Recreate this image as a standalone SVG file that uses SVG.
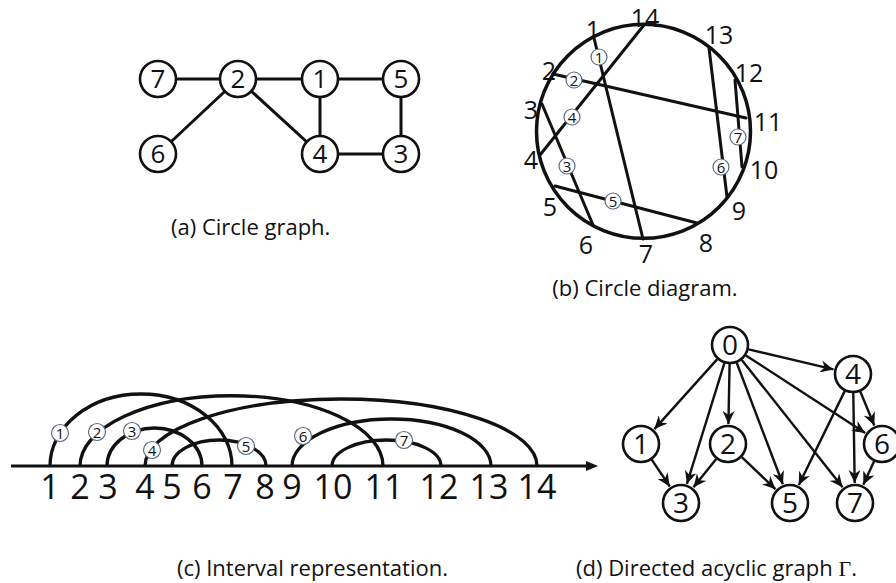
<svg xmlns="http://www.w3.org/2000/svg" width="896" height="583" viewBox="0 0 896 583">
<defs>
<style>
text{font-family:"Open Sans","Noto Sans",sans-serif;fill:#111}
.e{stroke:#111;stroke-width:3;fill:none;stroke-linecap:round}
.iv{stroke:#111;stroke-width:3.3;fill:none}
.n{fill:#fff;stroke:#111;stroke-width:2.6}
.nt{font-size:26px;text-anchor:middle}
.dt{font-size:28px;text-anchor:middle}
.cap{font-size:22px}
.pos{font-size:25px;text-anchor:middle}
.ax{font-size:34px;text-anchor:middle}
.sl{fill:#fff;stroke:#5b6b80;stroke-width:1.2}
.st{font-size:15px;text-anchor:middle}
.arr{stroke:#111;stroke-width:2.4;fill:none;marker-end:url(#ah)}
</style>
<marker id="ah" markerUnits="userSpaceOnUse" markerWidth="14" markerHeight="12" refX="13" refY="6" orient="auto">
<path d="M0,0 L13,6 L0,12 L4,6 Z" fill="#111"/>
</marker>
</defs>
<rect width="896" height="583" fill="#fff"/>

<!-- (a) Circle graph -->
<g id="a-edges">
<line class="e" x1="158" y1="79" x2="238" y2="79"/>
<line class="e" x1="238" y1="79" x2="320" y2="79"/>
<line class="e" x1="320" y1="79" x2="401" y2="79"/>
<line class="e" x1="401" y1="79" x2="401" y2="154"/>
<line class="e" x1="401" y1="154" x2="320" y2="154"/>
<line class="e" x1="320" y1="79" x2="320" y2="154"/>
<line class="e" x1="238" y1="79" x2="320" y2="154"/>
<line class="e" x1="238" y1="79" x2="158" y2="154"/>
</g>
<g id="a-node-7"><circle class="n" cx="158" cy="79" r="18"/><text class="nt" x="158" y="88">7</text></g>
<g id="a-node-2"><circle class="n" cx="238" cy="79" r="18"/><text class="nt" x="238" y="88">2</text></g>
<g id="a-node-1"><circle class="n" cx="320" cy="79" r="18"/><text class="nt" x="320" y="88">1</text></g>
<g id="a-node-5"><circle class="n" cx="401" cy="79" r="18"/><text class="nt" x="401" y="88">5</text></g>
<g id="a-node-6"><circle class="n" cx="158" cy="154" r="18"/><text class="nt" x="158" y="163">6</text></g>
<g id="a-node-4"><circle class="n" cx="320" cy="154" r="18"/><text class="nt" x="320" y="163">4</text></g>
<g id="a-node-3"><circle class="n" cx="401" cy="154" r="18"/><text class="nt" x="401" y="163">3</text></g>
<text class="cap" x="171" y="235">(a) Circle graph.</text>

<!-- (b) Circle diagram -->
<g id="b-diagram">
<circle cx="643.5" cy="131.3" r="107" fill="none" stroke="#111" stroke-width="3.5"/>
<line class="e" x1="594" y1="38" x2="643" y2="239"/>
<line class="e" x1="553" y1="74" x2="746" y2="118"/>
<line class="e" x1="542" y1="104" x2="593" y2="225"/>
<line class="e" x1="644" y1="25" x2="540" y2="155"/>
<line class="e" x1="555" y1="186" x2="697" y2="223"/>
<line class="e" x1="709" y1="48" x2="727" y2="197"/>
<line class="e" x1="735" y1="80" x2="742" y2="167"/>
<g id="b-lbl-1"><circle class="sl" cx="599" cy="57" r="8"/><text class="st" x="599" y="62.5">1</text></g>
<g id="b-lbl-2"><circle class="sl" cx="574" cy="80" r="8"/><text class="st" x="574" y="85.5">2</text></g>
<g id="b-lbl-3"><circle class="sl" cx="567" cy="166" r="8"/><text class="st" x="567" y="171.5">3</text></g>
<g id="b-lbl-4"><circle class="sl" cx="572" cy="117" r="8"/><text class="st" x="572" y="122.5">4</text></g>
<g id="b-lbl-5"><circle class="sl" cx="613" cy="201" r="8"/><text class="st" x="613" y="206.5">5</text></g>
<g id="b-lbl-6"><circle class="sl" cx="721" cy="167" r="8"/><text class="st" x="721" y="172.5">6</text></g>
<g id="b-lbl-7"><circle class="sl" cx="738" cy="137" r="8"/><text class="st" x="738" y="142.5">7</text></g>
<text class="pos" x="593" y="39">1</text>
<text class="pos" x="549" y="80">2</text>
<text class="pos" x="531" y="119">3</text>
<text class="pos" x="531" y="169">4</text>
<text class="pos" x="550" y="216">5</text>
<text class="pos" x="586" y="254">6</text>
<text class="pos" x="646" y="263">7</text>
<text class="pos" x="706" y="252">8</text>
<text class="pos" x="739" y="220">9</text>
<text class="pos" x="764" y="179">10</text>
<text class="pos" x="768" y="131">11</text>
<text class="pos" x="749" y="82">12</text>
<text class="pos" x="719" y="44">13</text>
<text class="pos" x="645" y="27">14</text>
</g>
<text class="cap" x="645" y="296" text-anchor="middle">(b) Circle diagram.</text>

<!-- (c) Interval representation -->
<g id="c-intervals">
<path class="iv" d="M50,466 A91,72 0 0 1 232,466"/>
<path class="iv" d="M80,466 A151,70 0 0 1 383,466"/>
<path class="iv" d="M107,466 A47.5,38 0 0 1 202,466"/>
<path class="iv" d="M145,466 A196,67 0 0 1 537,466"/>
<path class="iv" d="M172,466 A47,26 0 0 1 266,466"/>
<path class="iv" d="M292,466 A99.5,47 0 0 1 491,466"/>
<path class="iv" d="M332,466 A54.5,26 0 0 1 441,466"/>
<line x1="11" y1="466" x2="590" y2="466" stroke="#111" stroke-width="3"/>
<path d="M598,466 L586,461 L586,471 Z" fill="#111"/>
<g id="c-lbl-1"><circle class="sl" cx="60" cy="433" r="8.5"/><text class="st" x="60" y="438.5">1</text></g>
<g id="c-lbl-2"><circle class="sl" cx="97" cy="432" r="8.5"/><text class="st" x="97" y="437.5">2</text></g>
<g id="c-lbl-3"><circle class="sl" cx="132" cy="431" r="8.5"/><text class="st" x="132" y="436.5">3</text></g>
<g id="c-lbl-4"><circle class="sl" cx="152" cy="450" r="8.5"/><text class="st" x="152" y="455.5">4</text></g>
<g id="c-lbl-5"><circle class="sl" cx="246" cy="446" r="8.5"/><text class="st" x="246" y="451.5">5</text></g>
<g id="c-lbl-6"><circle class="sl" cx="303" cy="436" r="8.5"/><text class="st" x="303" y="441.5">6</text></g>
<g id="c-lbl-7"><circle class="sl" cx="404" cy="440" r="8.5"/><text class="st" x="404" y="445.5">7</text></g>
<text class="ax" x="50" y="499">1</text>
<text class="ax" x="80" y="499">2</text>
<text class="ax" x="108" y="499">3</text>
<text class="ax" x="145" y="499">4</text>
<text class="ax" x="172" y="499">5</text>
<text class="ax" x="202" y="499">6</text>
<text class="ax" x="233" y="499">7</text>
<text class="ax" x="265" y="499">8</text>
<text class="ax" x="292" y="499">9</text>
<text class="ax" x="333" y="499">10</text>
<text class="ax" x="384" y="499">11</text>
<text class="ax" x="439" y="499">12</text>
<text class="ax" x="489" y="499">13</text>
<text class="ax" x="537" y="499">14</text>
</g>
<text class="cap" x="177" y="576">(c) Interval representation.</text>

<!-- (d) DAG -->
<g id="d-edges">
<line class="arr" x1="717.3" y1="359.1" x2="654.4" y2="429.1"/>
<line class="arr" x1="724.4" y1="363.1" x2="686.9" y2="483.9"/>
<line class="arr" x1="729.6" y1="364" x2="728.4" y2="424"/>
<line class="arr" x1="736.7" y1="362.8" x2="782.9" y2="484.3"/>
<line class="arr" x1="741.8" y1="359.9" x2="842.6" y2="487.3"/>
<line class="arr" x1="745.9" y1="355.4" x2="865.2" y2="433.1"/>
<line class="arr" x1="748.5" y1="349.4" x2="833.5" y2="369.4"/>
<line class="arr" x1="844.7" y1="391.1" x2="798.8" y2="485"/>
<line class="arr" x1="853.3" y1="393" x2="854.7" y2="483"/>
<line class="arr" x1="860.3" y1="391.5" x2="874.3" y2="425.5"/>
<line class="arr" x1="651.7" y1="459.7" x2="669.8" y2="486.5"/>
<line class="arr" x1="716.2" y1="458.9" x2="693.5" y2="487.3"/>
<line class="arr" x1="741.8" y1="457.1" x2="775.5" y2="489.2"/>
<line class="arr" x1="874.1" y1="461.3" x2="863.3" y2="484.8"/>
</g>
<g id="d-node-0"><circle class="n" cx="730" cy="345" r="18"/><text class="dt" x="730" y="355">0</text></g>
<g id="d-node-4"><circle class="n" cx="853" cy="374" r="18"/><text class="dt" x="853" y="384">4</text></g>
<g id="d-node-1"><circle class="n" cx="641" cy="444" r="18"/><text class="dt" x="641" y="454">1</text></g>
<g id="d-node-2"><circle class="n" cx="728" cy="444" r="18"/><text class="dt" x="728" y="454">2</text></g>
<g id="d-node-6"><circle class="n" cx="882" cy="444" r="18"/><text class="dt" x="882" y="454">6</text></g>
<g id="d-node-3"><circle class="n" cx="681" cy="503" r="18"/><text class="dt" x="681" y="513">3</text></g>
<g id="d-node-5"><circle class="n" cx="790" cy="503" r="18"/><text class="dt" x="790" y="513">5</text></g>
<g id="d-node-7"><circle class="n" cx="855" cy="503" r="18"/><text class="dt" x="855" y="513">7</text></g>
<text class="cap" x="576" y="576">(d) Directed acyclic graph <tspan font-family="'Liberation Serif',serif">Γ</tspan>.</text>
</svg>
